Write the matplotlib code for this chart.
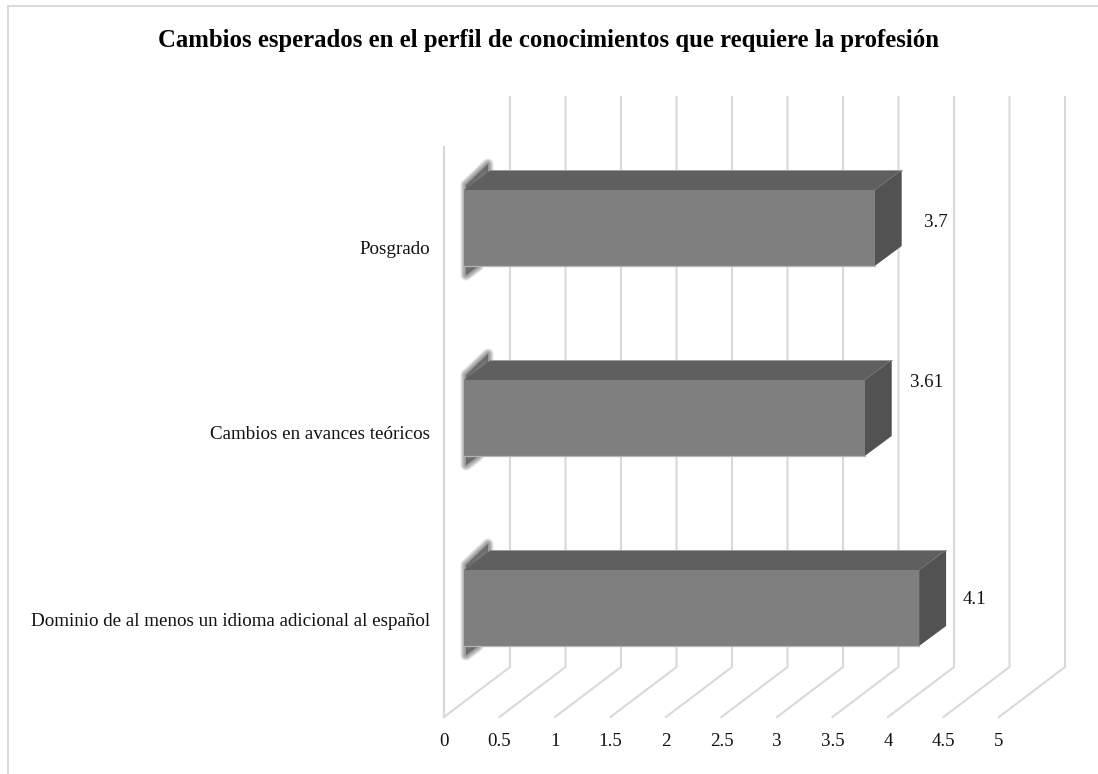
import matplotlib
matplotlib.use("Agg")
import matplotlib.pyplot as plt
from matplotlib.patches import Polygon

categories = ["Dominio de al menos un idioma adicional al español", "Cambios en avances teóricos", "Posgrado"]
values = [4.1, 3.61, 3.7]
value_labels = ["4.1", "3.61", "3.7"]
ticks = [0, 0.5, 1, 1.5, 2, 2.5, 3, 3.5, 4, 4.5, 5]
tick_labels = ["0", "0.5", "1", "1.5", "2", "2.5", "3", "3.5", "4", "4.5", "5"]
title = "Cambios esperados en el perfil de conocimientos que requiere la profesión"

plt.rcParams["font.family"] = ["Liberation Serif", "DejaVu Serif"]

W, H = 1098, 774
PX_X = 111.0   # pixels per unit of value
PX_Y = 190.0   # pixels per category
X0 = 444.0
Y0 = 608.0

fig = plt.figure(figsize=(W / 100, H / 100), dpi=100)
ax = fig.add_axes([0, 0, 1, 1])
ax.set_xlim(-X0 / PX_X, (W - X0) / PX_X)
ax.set_ylim((Y0 - H) / PX_Y, Y0 / PX_Y)
ax.axis("off")

# pseudo 3d offsets, in data units
wall_dx, wall_dy = 66 / PX_X, 50 / PX_Y
bar_x0 = 20 / PX_X
bar_dx, bar_dy = 27 / PX_X, 20 / PX_Y
half = 38 / PX_Y
floor = -109 / PX_Y
wall_top = (Y0 - 97) / PX_Y
side_top = (Y0 - 147) / PX_Y
grid_c = "#d9d9d9"

# border of the chart area
border_x = (8 - X0) / PX_X
border_y = (Y0 - 6) / PX_Y
ax.plot([border_x, border_x], [(Y0 - H) / PX_Y, border_y], color=grid_c, lw=1.4)
ax.plot([border_x, (W - X0) / PX_X], [border_y, border_y], color=grid_c, lw=1.4)

# side wall and grid
ax.plot([0, 0], [floor, side_top], color=grid_c, lw=1.6, zorder=1)
for t in ticks:
    ax.plot([t, t + wall_dx, t + wall_dx], [floor, floor + wall_dy, wall_top],
            color=grid_c, lw=1.5, zorder=1, solid_joinstyle="miter")

for i, (cat, v) in enumerate(zip(categories, values)):
    left = bar_x0
    right = bar_x0 + v
    # soft shadow behind the bar, stacked strokes fake the blur
    shadow = [(left + 2 / PX_X, i - half - 9 / PX_Y), (left + 2 / PX_X, i + half + 5 / PX_Y),
              (left + bar_dx - 3 / PX_X, i + half + bar_dy + 6 / PX_Y), (left + bar_dx - 3 / PX_X, i + half + bar_dy),
              (left + 14 / PX_X, i - half)]
    for lw in [8, 6.8, 5.6, 4.4, 3.2, 2, 0.9]:
        ax.add_patch(Polygon(shadow, closed=True, fill=False, edgecolor="#555555",
                             alpha=0.13, lw=lw, zorder=2, joinstyle="round"))
    ax.add_patch(Polygon(shadow, closed=True, facecolor="#5a5a5a", edgecolor="none", alpha=0.75, zorder=2))
    ax.add_patch(Polygon([(left, i + half), (right, i + half),
                          (right + bar_dx, i + half + bar_dy), (left + bar_dx, i + half + bar_dy)],
                         closed=True, facecolor="#5f5f5f", edgecolor="none", zorder=3))
    ax.add_patch(Polygon([(right, i - half), (right + bar_dx, i - half + bar_dy),
                          (right + bar_dx, i + half + bar_dy), (right, i + half)],
                         closed=True, facecolor="#525252", edgecolor="none", zorder=3))
    ax.add_patch(Polygon([(left, i - half), (right, i - half), (right, i + half), (left, i + half)],
                         closed=True, facecolor="#7f7f7f", edgecolor="none", zorder=4))
    # thin light edges seen on the bottom and back of the box
    ax.plot([left, right], [i - half, i - half], color="#b5b5b5", lw=0.9, zorder=5)
    ax.plot([left + bar_dx, right + bar_dx], [i + half + bar_dy, i + half + bar_dy], color="#a0a0a0", lw=0.7, zorder=5)

# text offsets in pixels, for labels placed by hand in the original
cat_dy = [14, 16, 21]
val_dx = [75, 82, 81]
val_dy = [-8, -36, -6]
for i, (cat, v, lab) in enumerate(zip(categories, values, value_labels)):
    ax.text(-14 / PX_X, i - cat_dy[i] / PX_Y, cat, ha="right", va="center", fontsize=13.65, color="#111111")
    ax.text(v + val_dx[i] / PX_X, i - val_dy[i] / PX_Y, lab, ha="center", va="center", fontsize=13.6, color="#111111")

for t, lab in zip(ticks, tick_labels):
    ax.text(t, (Y0 - 742) / PX_Y, lab, ha="center", va="center", fontsize=13.6, color="#111111")

ax.text((548 - X0) / PX_X, (Y0 - 40) / PX_Y, title, ha="center", va="center",
        fontsize=17.8, fontweight="bold", color="black")

fig.savefig("out.png", dpi=100, facecolor="white")
